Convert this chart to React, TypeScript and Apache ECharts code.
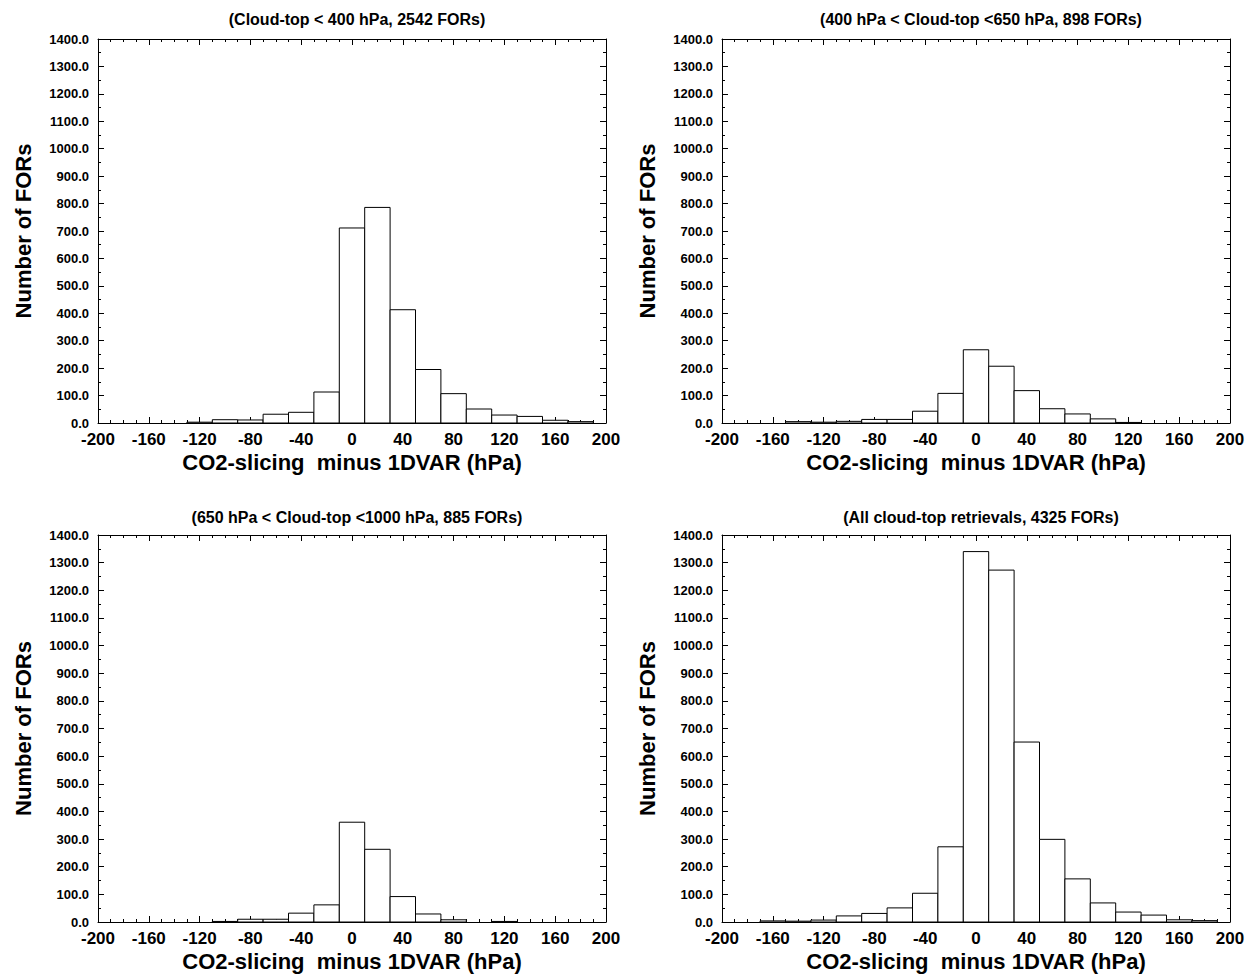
import React, { useEffect, useRef } from "react";
import * as echarts from "echarts";

const BIN_CENTERS = [-180, -160, -140, -120, -100, -80, -60, -40, -20, 0, 20, 40, 60, 80, 100, 120, 140, 160, 180];
const BIN_WIDTH = 20;

const HIGH_CLOUD = [0, 0, 0, 3, 12, 11, 32, 39, 113, 711, 786, 413, 195, 107, 51, 29, 24, 10, 5];
const MID_CLOUD = [0, 0, 5, 3, 6, 13, 13, 43, 108, 267, 207, 118, 52, 33, 15, 2, 0, 0, 0];
const LOW_CLOUD = [0, 0, 0, 0, 2, 10, 10, 32, 62, 361, 263, 92, 29, 8, 0, 2, 0, 0, 0];
const ALL_CLOUD = [0, 4, 3, 7, 22, 31, 51, 104, 272, 1340, 1273, 651, 299, 156, 69, 36, 25, 8, 5];

const PANEL_TITLES = [
  "(Cloud-top < 400 hPa, 2542 FORs)",
  "(400 hPa < Cloud-top <650 hPa, 898 FORs)",
  "(650 hPa < Cloud-top <1000 hPa, 885 FORs)",
  "(All cloud-top retrievals, 4325 FORs)",
];
const PANEL_DATA = [HIGH_CLOUD, MID_CLOUD, LOW_CLOUD, ALL_CLOUD];

const X_NAME = "CO2-slicing  minus 1DVAR (hPa)";
const Y_NAME = "Number of FORs";
const X_MIN = -200, X_MAX = 200, X_STEP = 40;
const Y_MIN = 0, Y_MAX = 1400, Y_STEP = 100;

const FONT = '"Liberation Sans", Arial, Helvetica, sans-serif';

const GRIDS = [
  { left: 98, top: 39, width: 508, height: 384 },
  { left: 722, top: 39, width: 508, height: 384 },
  { left: 98, top: 535, width: 508, height: 387 },
  { left: 722, top: 535, width: 508, height: 387 },
];
const TITLE_TOPS = [6, 6, 504, 504];

export default function App() {
  const ref = useRef<HTMLDivElement>(null);
  useEffect(() => {
    if (!ref.current) return;
    const chart = echarts.init(ref.current, undefined, { renderer: "svg" });
    const axisLine = { show: true, onZero: false, lineStyle: { color: "#000", width: 1 } };
    const xAxes: any[] = [];
    const yAxes: any[] = [];
    const series: any[] = [];
    const titles: any[] = [];
    GRIDS.forEach((g, i) => {
      const xBase = {
        type: "value",
        gridIndex: i,
        min: X_MIN,
        max: X_MAX,
        interval: X_STEP,
        axisLine,
        axisTick: { show: true, inside: true, length: 6, lineStyle: { color: "#000" } },
        minorTick: { show: true, splitNumber: 4, length: 3, lineStyle: { color: "#000" } },
        splitLine: { show: false },
        minorSplitLine: { show: false },
      };
      xAxes.push({
        ...xBase,
        position: "bottom",
        axisLabel: { show: true, color: "#000", fontSize: 17, fontWeight: "bold", fontFamily: FONT, margin: 8 },
        name: X_NAME,
        nameLocation: "middle",
        nameGap: 28,
        nameTextStyle: { color: "#000", fontSize: 22, fontWeight: "bold", fontFamily: FONT },
      });
      xAxes.push({ ...xBase, position: "top", axisLabel: { show: false } });
      const yBase = {
        type: "value",
        gridIndex: i,
        min: Y_MIN,
        max: Y_MAX,
        interval: Y_STEP,
        axisLine,
        axisTick: { show: true, inside: true, length: 6, lineStyle: { color: "#000" } },
        minorTick: { show: true, splitNumber: 2, length: 3, lineStyle: { color: "#000" } },
        splitLine: { show: false },
        minorSplitLine: { show: false },
      };
      yAxes.push({
        ...yBase,
        position: "left",
        axisLabel: {
          show: true,
          color: "#000",
          fontSize: 13,
          fontWeight: "bold",
          fontFamily: FONT,
          margin: 9,
          formatter: (v: number) => v.toFixed(1),
        },
        name: Y_NAME,
        nameLocation: "middle",
        nameGap: 64,
        nameTextStyle: { color: "#000", fontSize: 22, fontWeight: "bold", fontFamily: FONT },
      });
      yAxes.push({ ...yBase, position: "right", axisLabel: { show: false } });
      const values = PANEL_DATA[i];
      series.push({
        type: "custom",
        xAxisIndex: 2 * i,
        yAxisIndex: 2 * i,
        data: BIN_CENTERS.map((c, j) => [c, values[j]]),
        renderItem: (params: any, api: any) => {
          const c = api.value(0);
          const v = api.value(1);
          if (!v) return null;
          const p0 = api.coord([c - BIN_WIDTH / 2, v]);
          const p1 = api.coord([c + BIN_WIDTH / 2, 0]);
          return {
            type: "rect",
            shape: { x: p0[0], y: p0[1], width: p1[0] - p0[0], height: p1[1] - p0[1] },
            style: { fill: "#fff", stroke: "#000", lineWidth: 1 },
          };
        },
      });
      titles.push({
        text: PANEL_TITLES[i],
        left: g.left + g.width / 2,
        top: TITLE_TOPS[i],
        textAlign: "center",
        textStyle: { color: "#000", fontSize: 16, fontWeight: "bold", fontFamily: FONT },
      });
    });
    chart.setOption({
      animation: false,
      backgroundColor: "#fff",
      title: titles,
      grid: GRIDS,
      xAxis: xAxes,
      yAxis: yAxes,
      series,
    });
    return () => chart.dispose();
  }, []);
  return (
    <div
      ref={ref}
      style={{ position: "fixed", left: 0, top: 0, width: 1252, height: 975, background: "#fff" }}
    />
  );
}
